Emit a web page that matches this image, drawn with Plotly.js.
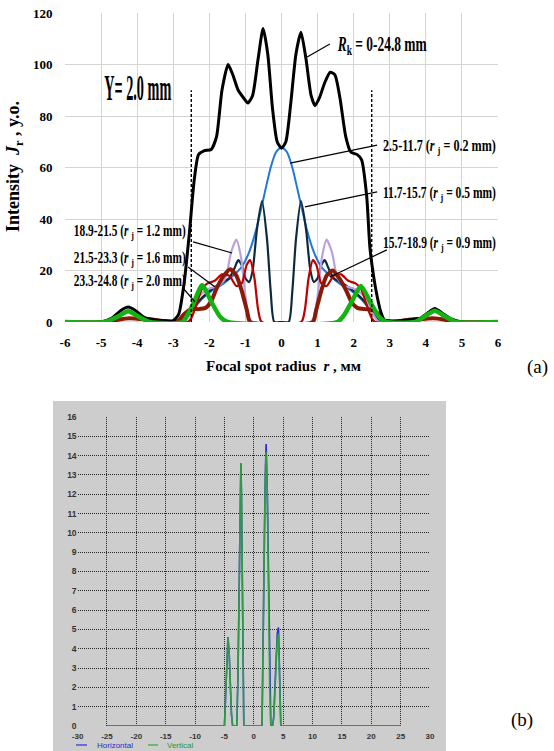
<!DOCTYPE html>
<html>
<head>
<meta charset="utf-8">
<script src="https://cdn.plot.ly/plotly-3.0.1.min.js"></script>
<style>
  html, body { margin: 0; padding: 0; background: #fff; }
  #chart { width: 554px; height: 751px; }
</style>
</head>
<body>
<div id="chart"></div>
<script>
// ---- (a) radial intensity profiles, Y = 2.0 mm ----
const rBlack = [-6, -5.0, -4.7, -4.45, -4.25, -4.05, -3.8, -3.5, -3.2, -3.0, -2.85, -2.7, -2.55, -2.42, -2.3, -2.15, -1.95, -1.8, -1.65, -1.48, -1.35, -1.2, -1.05, -0.93, -0.8, -0.65, -0.51, -0.38, -0.25, -0.12, 0, 0.12, 0.25, 0.4, 0.54, 0.68, 0.82, 0.93, 1.05, 1.2, 1.35, 1.48, 1.62, 1.78, 1.92, 2.1, 2.22, 2.36, 2.45, 2.55, 2.65, 2.75, 2.85, 3.0, 3.3, 3.6, 3.85, 4.05, 4.25, 4.45, 4.7, 5.0, 6];
const jBlack = [0, 0, 1.5, 4.5, 5.8, 4.5, 1.8, 0.8, 0.5, 0.5, 3, 15, 35, 55, 65, 66.5, 67, 72, 90, 100, 96, 90, 87, 85, 88, 102, 114, 104, 83, 70, 67.5, 70, 84, 104, 112.5, 102, 88, 84, 87, 93, 97, 96, 87, 72, 66, 65, 63, 49, 29, 18, 10, 4, 0.8, 0.5, 0.5, 1, 1.5, 3.5, 5.2, 3.5, 1.2, 0, 0];

const rBlue = [-6, -3, -2.75, -2.5, -2.2, -1.9, -1.6, -1.3, -1.1, -0.9, -0.7, -0.5, -0.3, -0.15, 0, 0.15, 0.3, 0.5, 0.7, 0.9, 1.1, 1.3, 1.6, 1.9, 2.2, 2.5, 2.75, 3, 6];
const jBlue = [0, 0, 1, 4, 9, 12.5, 15, 18.5, 21.5, 27, 36, 48, 60, 66, 68, 66, 60, 48, 36, 27, 21.5, 18.5, 15, 12.5, 9, 4, 1, 0, 0];

const rNavy = [-6, -2.8, -2.55, -2.3, -2.0, -1.7, -1.45, -1.3, -1.2, -1.1, -1.0, -0.9, -0.8, -0.68, -0.54, -0.4, -0.3, -0.2, 0, 0.2, 0.3, 0.4, 0.54, 0.68, 0.8, 0.9, 1.0, 1.1, 1.2, 1.3, 1.45, 1.7, 2.0, 2.3, 2.55, 2.8, 6];
const jNavy = [0, 0, 3, 8, 12, 15, 17, 21, 24, 22, 17, 15.5, 20, 36, 47, 32, 12, 0, 0, 0, 12, 32, 47, 36, 20, 15.5, 17, 22, 24, 21, 17, 15, 12, 8, 3, 0, 0];

const rPurple = [-6, -2.7, -2.5, -2.3, -2.0, -1.75, -1.55, -1.4, -1.25, -1.12, -1.0, -0.9, -0.8, 0.8, 0.9, 1.0, 1.12, 1.25, 1.4, 1.55, 1.75, 2.0, 2.3, 2.5, 2.7, 6];
const jPurple = [0, 0, 4, 10, 13, 14, 17, 27, 32, 25, 10, 2, 0, 0, 2, 10, 25, 32, 27, 17, 14, 13, 10, 4, 0, 0];

const rRed = [-6, -2.6, -2.5, -2.35, -2.2, -2.05, -1.85, -1.65, -1.45, -1.25, -1.1, -0.97, -0.87, -0.75, -0.65, -0.55, 0.55, 0.65, 0.75, 0.87, 0.97, 1.1, 1.25, 1.45, 1.65, 1.85, 2.05, 2.2, 2.35, 2.5, 2.6, 6];
const jRed = [0, 0, 1.5, 7, 13, 15, 16, 18.5, 18, 14, 15, 22, 24, 17, 5, 0, 0, 5, 17, 24, 22, 15, 14, 18, 18.5, 16, 15, 13, 7, 1.5, 0, 0];

const rBrown = [-6, -4.8, -4.5, -4.2, -3.9, -3.6, -3.3, -3.0, -2.85, -2.7, -2.5, -2.3, -2.1, -1.95, -1.8, -1.6, -1.42, -1.25, -1.1, -0.95, -0.87, 0.87, 0.95, 1.1, 1.25, 1.42, 1.6, 1.8, 1.95, 2.1, 2.3, 2.5, 2.7, 2.85, 3.0, 3.3, 3.6, 3.9, 4.2, 4.5, 4.8, 6];
const jBrown = [0, 0, 1, 1.5, 1.2, 1.0, 0.4, 0, 0.5, 3, 5, 5, 5.5, 8, 13, 18, 20.5, 18, 12, 4, 0, 0, 4, 12, 18, 20, 17, 12, 7.5, 5.5, 5, 4.8, 3, 0.5, 0, 0.4, 1.0, 1.2, 1.5, 1, 0, 0];

const rGreen = [-6, -4.9, -4.55, -4.25, -3.95, -3.65, -2.75, -2.45, -2.2, -1.95, -1.7, -1.5, 1.55, 1.75, 1.95, 2.2, 2.45, 2.7, 2.9, 3.7, 3.95, 4.25, 4.55, 4.85, 6];
const jGreen = [0, 0, 2, 4.2, 2, 0, 0, 7, 14.3, 8, 2, 0, 0, 3, 8, 14, 8, 2, 0, 0, 2, 4.4, 2, 0, 0];

const xTicksA = [-6, -5, -4, -3, -2, -1, 0, 1, 2, 3, 4, 5, 6];
const yTicksA = [0, 20, 40, 60, 80, 100, 120];
const apertureEdge = 2.5;     // dashed markers at r = ±2.5 mm
const apertureHeight = 90;

// ---- (b) measured profile ----
const xProfile = [-25, -5.0, -4.8, -4.6, -4.4, -4.2, -4.0, -3.8, -3.6, -2.9, -2.7, -2.5, -2.3, -2.2, -2.1, -1.9, -1.7, 1.4, 1.5, 1.7, 1.9, 2.0, 2.1, 2.3, 2.5, 2.7, 2.9, 3.2, 3.4, 3.6, 3.8, 4.0, 4.2, 4.4, 4.6, 25];
const horizontal = [0, 0, 1.5, 3.4, 4.6, 3.8, 2.0, 0.6, 0, 0, 2.5, 7, 12.5, 13.6, 12, 5, 0, 0, 3, 8, 12, 13.5, 14.6, 12, 7, 2, 0, 0, 0.5, 2, 3.6, 4.8, 5.1, 2.5, 0, 0];
const vertical   = [0, 0, 1.6, 3.5, 4.6, 3.9, 2.1, 0.6, 0, 0, 2.4, 7.2, 12.6, 13.6, 12.2, 5, 0, 0, 3, 8, 11.8, 13.4, 14.2, 12.1, 6.8, 2, 0, 0, 0.4, 1.8, 3.4, 4.5, 4.8, 2.3, 0, 0];
const xTicksB = [-30, -25, -20, -15, -10, -5, 0, 5, 10, 15, 20, 25, 30];
const yTicksB = [0, 1, 2, 3, 4, 5, 6, 7, 8, 9, 10, 11, 12, 13, 14, 15, 16];

// ---- page geometry (pixels of the 554 x 751 page) ----
const W = 554, H = 751;
const px = v => v / W;
const py = v => 1 - v / H;

function curve(x, y, color, width) {
  return { x, y, type: 'scatter', mode: 'lines', xaxis: 'x', yaxis: 'y',
    line: { color, width, shape: 'spline', smoothing: 0.6 }, showlegend: false, hoverinfo: 'skip' };
}

const traces = [
  curve(rBlue, jBlue, '#2277dd', 2),
  curve(rNavy, jNavy, '#0d2b3e', 2.2),
  curve(rPurple, jPurple, '#b9a2dc', 2.2),
  curve(rRed, jRed, '#c00000', 2.2),
  curve(rBrown, jBrown, '#8a1a05', 4),
  curve(rBlack, jBlack, '#000000', 3),
  curve(rGreen, jGreen, '#12b312', 4.5),
  { x: xProfile, y: horizontal, type: 'scatter', mode: 'lines', xaxis: 'x2', yaxis: 'y2',
    line: { color: '#2a2ad6', width: 1.6 }, showlegend: false, hoverinfo: 'skip' },
  { x: xProfile, y: vertical, type: 'scatter', mode: 'lines', xaxis: 'x2', yaxis: 'y2',
    line: { color: '#2fae2f', width: 1.6 }, opacity: 0.85, showlegend: false, hoverinfo: 'skip' }
];

const serifBold = (size) => ({ family: 'Liberation Serif, Times New Roman, serif', size, color: '#000', weight: 'bold' });
const sansSmall = (size, color) => ({ family: 'Liberation Sans, Arial, sans-serif', size, color, weight: 'bold' });

// leader lines for the curve labels (data coordinates of panel a)
const leader = (x0, y0, x1, y1) => ({ type: 'line', xref: 'x', yref: 'y', x0, y0, x1, y1,
  line: { color: '#000', width: 1.2 } });

const gridDots = '1px,1px';
const legendRow = 745;

const shapes = [
  { type: 'rect', xref: 'paper', yref: 'paper', x0: px(53), x1: px(446), y0: 0, y1: py(401),
    fillcolor: '#cdcdcd', line: { width: 0 }, layer: 'below' },
  { type: 'line', xref: 'x', yref: 'y', x0: -apertureEdge, x1: -apertureEdge, y0: 0, y1: apertureHeight,
    line: { color: '#000', width: 1.4, dash: '3px,2px' } },
  { type: 'line', xref: 'x', yref: 'y', x0: apertureEdge, x1: apertureEdge, y0: 0, y1: apertureHeight,
    line: { color: '#000', width: 1.4, dash: '3px,2px' } },
  leader(0.71, 102.9, 1.34, 108),
  leader(0.24, 61.7, 2.65, 68.7),
  leader(0.65, 44.7, 2.65, 50.5),
  leader(1.34, 17.5, 2.92, 28),
  leader(-2.45, 31.1, -1.37, 26.8),
  leader(-2.59, 21.4, -1.84, 13.6),
  leader(-2.73, 13.2, -2.4, 7.8),
  // legend samples of panel b
  { type: 'line', xref: 'paper', yref: 'paper', x0: px(76), x1: px(87), y0: py(legendRow), y1: py(legendRow),
    line: { color: '#2a2ad6', width: 1.2 } },
  { type: 'line', xref: 'paper', yref: 'paper', x0: px(148), x1: px(158), y0: py(legendRow), y1: py(legendRow),
    line: { color: '#2fae2f', width: 1.2 } }
];

// annotation list; fitWidths gives the printed width (px) for condensed labels
const annotations = [];
const fitWidths = [];
function addNote(a, fit) {
  annotations.push(Object.assign({ showarrow: false, xanchor: 'center', yanchor: 'middle' }, a));
  fitWidths.push(fit || 0);
}

addNote({ xref: 'paper', yref: 'paper', x: px(15), y: py(167), textangle: -90,
  text: 'Intensity&nbsp; <i>J</i><sub>r</sub> , y.o.', font: serifBold(18) });
addNote({ xref: 'paper', yref: 'paper', x: px(283), y: py(366),
  text: 'Focal spot radius&nbsp; <i>r</i> , мм', font: serifBold(15) });
addNote({ xref: 'paper', yref: 'paper', x: px(537), y: py(367),
  text: '(a)', font: { family: 'Liberation Serif, serif', size: 19, color: '#000' } });
addNote({ xref: 'paper', yref: 'paper', x: px(522), y: py(720),
  text: '(b)', font: { family: 'Liberation Serif, serif', size: 19, color: '#000' } });
addNote({ xref: 'x', yref: 'y', x: -3.98, y: 91, text: 'Y= 2.0 mm', font: serifBold(36) }, 67);
addNote({ xref: 'x', yref: 'y', x: 1.48, y: 107.5, xanchor: 'left', align: 'left',
  text: '<i>R</i><sub>k</sub> = 0-24.8 mm', font: serifBold(20) }, 90);
addNote({ xref: 'x', yref: 'y', x: 2.76, y: 68, xanchor: 'left', align: 'left',
  text: '2.5-11.7 (<i>r</i> <sub>j</sub> = 0.2 mm)', font: serifBold(16) }, 113);
addNote({ xref: 'x', yref: 'y', x: 2.76, y: 49.8, xanchor: 'left', align: 'left',
  text: '11.7-15.7 (<i>r</i> <sub>j</sub> = 0.5 mm)', font: serifBold(16) }, 113);
addNote({ xref: 'x', yref: 'y', x: 2.76, y: 30.4, xanchor: 'left', align: 'left',
  text: '15.7-18.9 (<i>r</i> <sub>j</sub> = 0.9 mm)', font: serifBold(16) }, 113);
addNote({ xref: 'x', yref: 'y', x: -2.6, y: 35, xanchor: 'right', align: 'right',
  text: '18.9-21.5 (<i>r</i> <sub>j</sub> = 1.2 mm)', font: serifBold(16) }, 112);
addNote({ xref: 'x', yref: 'y', x: -2.6, y: 24.5, xanchor: 'right', align: 'right',
  text: '21.5-23.3 (<i>r</i> <sub>j</sub> = 1.6 mm)', font: serifBold(16) }, 112);
addNote({ xref: 'x', yref: 'y', x: -2.6, y: 15.6, xanchor: 'right', align: 'right',
  text: '23.3-24.8 (<i>r</i> <sub>j</sub> = 2.0 mm)', font: serifBold(16) }, 112);
addNote({ xref: 'paper', yref: 'paper', x: px(96), y: py(legendRow), xanchor: 'left', align: 'left', borderpad: 0,
  text: 'Horizontal', font: { family: 'Liberation Sans, Arial, sans-serif', size: 8, color: '#2a2ad6' } });
addNote({ xref: 'paper', yref: 'paper', x: px(166), y: py(legendRow), xanchor: 'left', align: 'left', borderpad: 0,
  text: 'Vertical', font: { family: 'Liberation Sans, Arial, sans-serif', size: 8, color: '#2a9a2a' } });

const layout = {
  width: W, height: H,
  margin: { l: 0, r: 0, t: 0, b: 0 },
  paper_bgcolor: '#ffffff',
  plot_bgcolor: 'rgba(0,0,0,0)',
  showlegend: false,
  xaxis: {
    domain: [px(65), px(498)], anchor: 'y', range: [-6, 6],
    tickmode: 'array', tickvals: xTicksA, ticktext: xTicksA.map(String),
    showgrid: true, gridcolor: '#d4d4d4', gridwidth: 1, zeroline: false, showline: false,
    ticks: 'outside', ticklen: 8, tickcolor: 'rgba(0,0,0,0)',
    tickfont: serifBold(13), fixedrange: true
  },
  yaxis: {
    domain: [1 - 322 / H, 1 - 13 / H], anchor: 'x', range: [0, 120],
    tickmode: 'array', tickvals: yTicksA, ticktext: yTicksA.map(String),
    showgrid: true, gridcolor: '#d4d4d4', gridwidth: 1, zeroline: false, showline: false,
    ticks: 'outside', ticklen: 9, tickcolor: 'rgba(0,0,0,0)',
    tickfont: serifBold(13), fixedrange: true
  },
  xaxis2: {
    domain: [px(77.6), px(430)], anchor: 'y2', range: [-30, 30],
    tickmode: 'array', tickvals: xTicksB, ticktext: xTicksB.map(String),
    showgrid: true, gridcolor: '#262626', gridwidth: 1, griddash: gridDots, zeroline: false, showline: false,
    ticks: 'outside', ticklen: 2, tickcolor: 'rgba(0,0,0,0)',
    tickfont: sansSmall(8, '#333333'), fixedrange: true
  },
  yaxis2: {
    domain: [1 - 726 / H, 1 - 417 / H], anchor: 'x2', range: [0, 16],
    tickmode: 'array', tickvals: yTicksB, ticktext: yTicksB.map(String),
    showgrid: true, gridcolor: '#262626', gridwidth: 1, griddash: gridDots, zeroline: false, showline: false,
    ticks: '', tickfont: sansSmall(8.5, '#333333'), fixedrange: true
  },
  shapes,
  annotations
};

Plotly.newPlot('chart', traces, layout, { staticPlot: true, displayModeBar: false }).then(gd => {
  // condensed lettering: squeeze the marked labels horizontally to their printed widths
  gd.querySelectorAll('g.annotation').forEach(g => {
    const i = +g.getAttribute('data-index');
    const w = fitWidths[i];
    if (!w) return;
    const t = g.querySelector('text.annotation-text');
    if (!t) return;
    const bb = t.getBBox();
    if (!bb.width) return;
    const s = w / bb.width;
    const align = annotations[i].align;
    const x0 = align === 'left' ? bb.x : align === 'right' ? bb.x + bb.width : bb.x + bb.width / 2;
    t.setAttribute('transform', `translate(${x0},0) scale(${s},1) translate(${-x0},0)`);
  });
});
</script>
</body>
</html>
